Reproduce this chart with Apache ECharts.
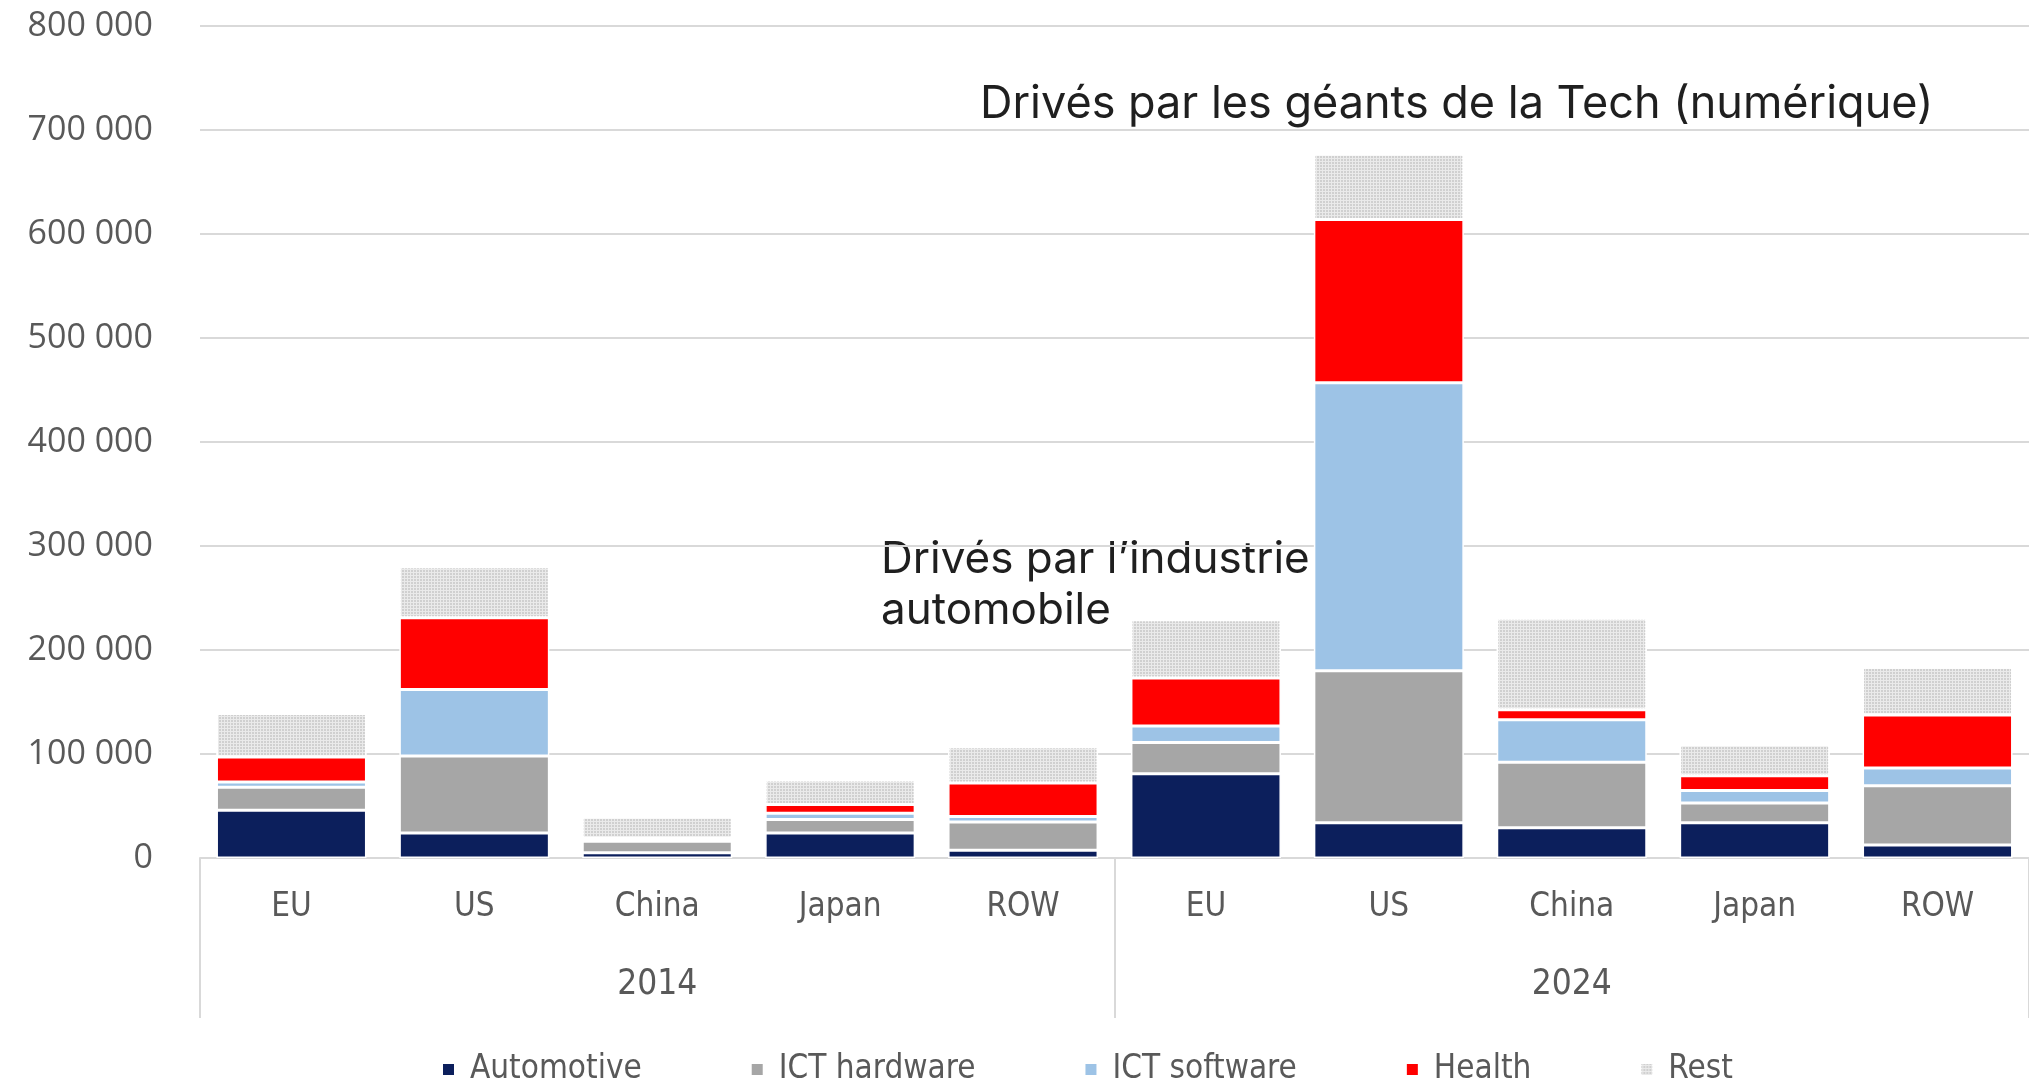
<!DOCTYPE html>
<html>
<head>
<meta charset="utf-8">
<script src="https://cdn.jsdelivr.net/npm/echarts@6/dist/echarts.min.js"></script>
<style>
  html, body { margin: 0; padding: 0; background: #fff; }
  #chart { width: 2029px; height: 1086px; }
</style>
</head>
<body>
<div id="chart"></div>
<script>
// catégories : région + année
var regions = ['EU', 'US', 'China', 'Japan', 'ROW', 'EU', 'US', 'China', 'Japan', 'ROW'];
var years = ['2014', '2024'];
var yTicks = [0, 100000, 200000, 300000, 400000, 500000, 600000, 700000, 800000];

// valeurs
var automotive  = [46000, 24000, 5000, 24000, 7500, 81000, 34000, 29000, 34000, 12500];
var ictHardware = [22000, 74000, 11000, 13000, 27000, 30000, 146000, 63000, 19000, 57000];
var ictSoftware = [5000, 64000, 1500, 6000, 5500, 16000, 277000, 41000, 12000, 17000];
var health      = [24000, 69000, 1500, 8500, 32000, 46000, 157000, 9500, 14000, 51000];
var rest        = [42000, 49000, 20500, 23500, 35000, 56000, 63000, 88000, 30000, 46000];

var chart = echarts.init(document.getElementById('chart'));

var catData = regions.map(function (r, i) {
    return r + '|' + years[i < 5 ? 0 : 1];
});

function fmt(v) {
    return String(v).replace(/\B(?=(\d{3})+(?!\d))/g, ' ');
}

var labelFont = '"DejaVu Sans Condensed", "Liberation Sans", sans-serif';

function barSeries(name, data, color, decal) {
    var s = {
        name: name,
        type: 'bar',
        stack: 'total',
        barWidth: 150,
        data: data,
        itemStyle: {
            color: color,
            borderColor: '#fff',
            borderWidth: 1.5
        }
    };
    if (decal) s.itemStyle.decal = decal;
    return s;
}

var option = {
    backgroundColor: '#fff',
    animation: false,
    grid: {
        left: 200,
        top: 26,
        width: 1838,
        bottom: 228
    },
    legend: {
        left: 436,
        top: 1048,
        itemWidth: 13,
        itemHeight: 13,
        itemGap: 108,
        icon: 'rect',
        textStyle: {
            fontFamily: labelFont,
            fontSize: 33,
            color: '#595959',
            padding: [0, 0, 0, 10]
        },
        data: ['Automotive', 'ICT hardware', 'ICT software', 'Health', 'Rest']
    },
    xAxis: [{
        type: 'category',
        data: catData,
        axisLine: { show: true, lineStyle: { color: '#d9d9d9', width: 2 } },
        axisTick: { show: false },
        axisLabel: {
            interval: 0,
            margin: 33,
            fontFamily: labelFont,
            fontSize: 33,
            color: '#595959',
            formatter: function (v) { return v.split('|')[0]; }
        }
    }, {
        type: 'category',
        data: years,
        position: 'bottom',
        axisLine: { show: false },
        axisTick: { show: true, length: 160, lineStyle: { color: '#d9d9d9', width: 2 } },
        axisLabel: {
            margin: 109,
            fontFamily: labelFont,
            fontSize: 35,
            color: '#595959'
        }
    }],
    yAxis: {
        type: 'value',
        min: yTicks[0],
        max: yTicks[yTicks.length - 1],
        interval: yTicks[1] - yTicks[0],
        axisLine: { show: false },
        axisTick: { show: false },
        splitLine: { lineStyle: { color: '#d9d9d9', width: 2 } },
        axisLabel: {
            margin: 47,
            fontFamily: '"Open Sans", sans-serif',
            fontSize: 34,
            color: '#595959',
            formatter: fmt
        }
    },
    series: [
        barSeries('Automotive', automotive, '#0c1f5c'),
        barSeries('ICT hardware', ictHardware, '#a6a6a6'),
        barSeries('ICT software', ictSoftware, '#9dc3e6'),
        barSeries('Health', health, '#ff0000'),
        barSeries('Rest', rest, '#eaeaea', {
            symbol: 'rect',
            symbolSize: 1,
            dashArrayX: [2, 1],
            dashArrayY: [2, 1],
            color: '#d0d0d0'
        })
    ],
    graphic: [{
        type: 'text',
        left: 980,
        top: 82,
        style: {
            text: 'Drivés par les géants de la Tech (numérique)',
            fontFamily: 'Inter, "Noto Sans", sans-serif',
            fontSize: 45,
            fill: '#1f1f1f'
        }
    }, {
        type: 'text',
        left: 881,
        top: 534,
        style: {
            text: 'Drivés par l’industrie\nautomobile',
            fontFamily: 'Inter, "Noto Sans", sans-serif',
            fontSize: 44,
            lineHeight: 51,
            fill: '#1f1f1f'
        }
    }]
};

chart.setOption(option);
</script>
</body>
</html>
